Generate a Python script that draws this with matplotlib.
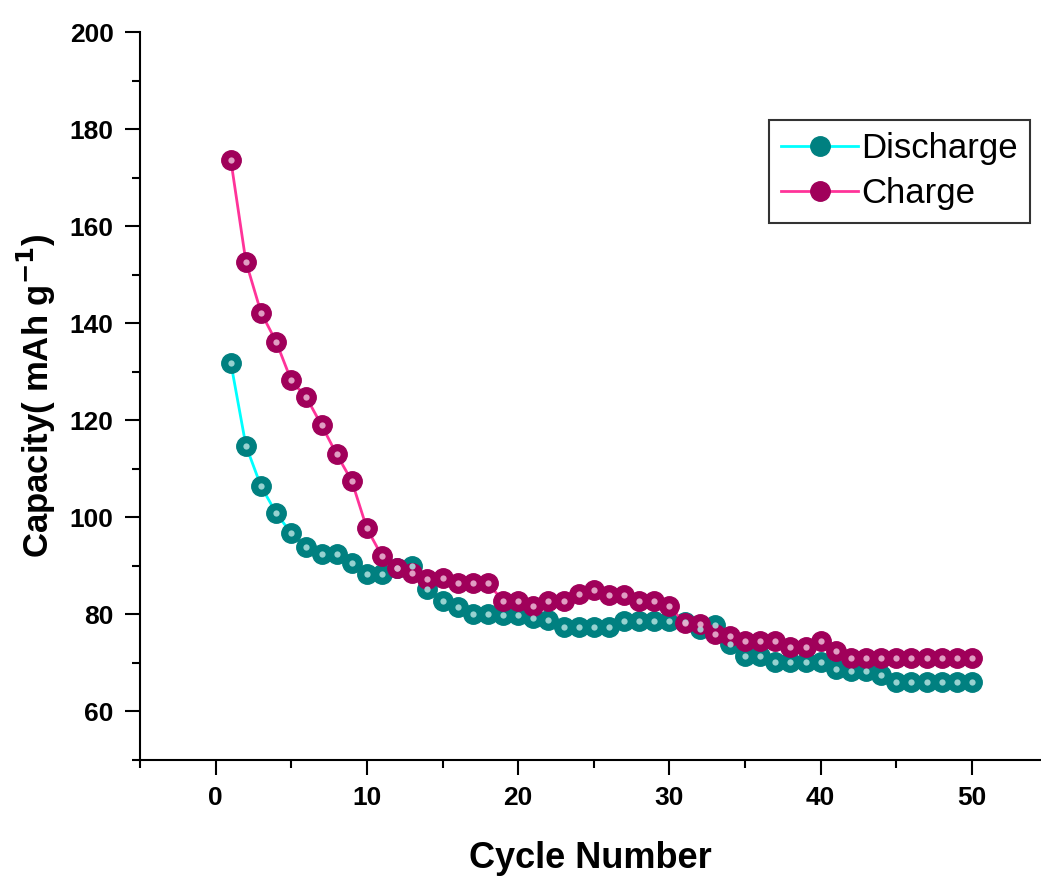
"""Cycling capacity of discharge / charge over 50 cycles."""

import matplotlib
matplotlib.use("Agg")
import matplotlib.pyplot as plt
from matplotlib.ticker import MultipleLocator

plt.rcParams["font.family"] = ["Liberation Sans", "DejaVu Sans"]
plt.rcParams["font.weight"] = "bold"

cycles = list(range(1, 51))
discharge = [131.9, 114.8, 106.4, 100.9, 96.7, 93.8, 92.5, 92.5, 90.5, 88.4,
             88.4, 89.5, 90.0, 85.3, 82.7, 81.6, 80.1, 80.1, 79.9, 79.9,
             79.3, 78.8, 77.4, 77.4, 77.4, 77.4, 78.7, 78.7, 78.7, 78.7,
             78.5, 77.0, 77.8, 74.0, 71.5, 71.5, 70.2, 70.2, 70.2, 70.2,
             68.8, 68.4, 68.4, 67.6, 66.0, 66.0, 66.0, 66.0, 66.0, 66.0]
charge = [173.7, 152.7, 142.2, 136.2, 128.2, 124.7, 119.0, 113.0, 107.5, 97.7,
          92.0, 89.6, 88.5, 87.3, 87.5, 86.4, 86.4, 86.4, 82.8, 82.8,
          81.8, 82.8, 82.8, 84.2, 85.0, 84.0, 84.0, 82.8, 82.8, 81.7,
          78.2, 78.0, 76.0, 75.6, 74.6, 74.6, 74.6, 73.2, 73.2, 74.6,
          72.4, 71.0, 71.0, 71.0, 71.0, 71.0, 71.0, 71.0, 71.0, 71.0]

fig = plt.figure(figsize=(10.41, 8.77), dpi=100)
ax = fig.add_axes([140 / 1041, 1 - 760 / 877, 900 / 1041, 728 / 877])

series = [
    ("Discharge", discharge, "#00FFFF", "#008080", "#a9dcda"),
    ("Charge", charge, "#FF3399", "#A0005A", "#e8b0cf"),
]
for label, vals, lc, mc, hc in series:
    ax.plot(cycles, vals, "-", color=lc, lw=2.0, marker="o", ms=14,
            mfc=mc, mec=mc, label=label, zorder=3)
    # small highlight to mimic the shaded sphere markers
    ax.plot(cycles, vals, "o", ls="none", ms=4.5, mfc=hc, mec="none",
            zorder=4, alpha=0.9)

ax.set_xlim(-5, 54.5)
ax.set_ylim(50, 200)
ax.xaxis.set_major_locator(MultipleLocator(10))
ax.xaxis.set_minor_locator(MultipleLocator(5))
ax.yaxis.set_minor_locator(MultipleLocator(10))
ax.set_yticks(range(60, 201, 20))

for side in ("top", "right"):
    ax.spines[side].set_visible(False)
for side in ("left", "bottom"):
    ax.spines[side].set_linewidth(1.5)

ax.tick_params(which="major", direction="out", length=11, width=1.5,
               labelsize=19, pad=8)
ax.tick_params(which="minor", direction="out", length=6, width=1.5)

ax.set_xlabel("Cycle Number", fontsize=26, fontweight="bold", labelpad=22)
ax.set_ylabel("Capacity( mAh g$^{\\mathbf{-1}}$)", fontsize=25,
              fontweight="bold", labelpad=8)

leg = ax.legend(loc="upper right", bbox_to_anchor=(0.989, 0.879), fontsize=25,
                frameon=True, fancybox=False, edgecolor="black",
                handlelength=2.2, handletextpad=0.1, borderpad=0.35,
                labelspacing=0.35, borderaxespad=0.0)
leg.get_frame().set_linewidth(1.5)
for txt in leg.get_texts():
    txt.set_fontweight("normal")

fig.savefig("out.png", dpi=100)
